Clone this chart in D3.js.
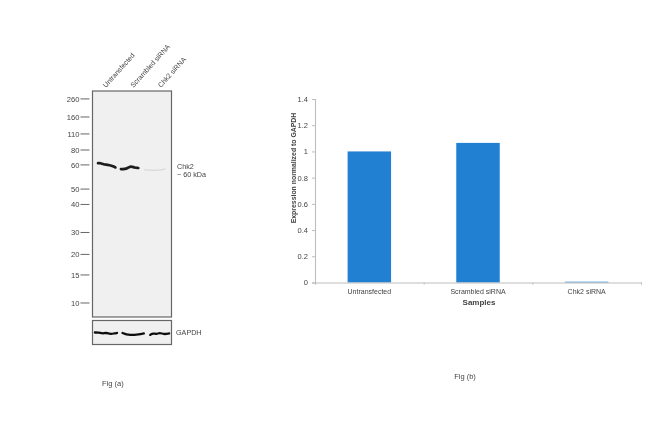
<!DOCTYPE html>
<html><head><meta charset="utf-8">
<style>html,body{margin:0;padding:0;background:#fff}svg{display:block}text{font-family:"Liberation Sans",Arial,sans-serif;fill:#444}</style>
<script src="https://cdn.jsdelivr.net/npm/d3@7"></script></head>
<body><svg id="c" width="650" height="431"></svg>
<script>
const samples = ["Untransfected","Scrambled siRNA","Chk2 siRNA"];
const expression = [1.0,1.065,0.006];
const yTicks = [0,0.2,0.4,0.6,0.8,1,1.2,1.4];
const markerLabels = ["260","160","110","80","60","50","40","30","20","15","10"];
const markerMigration = [0.035,0.115,0.19,0.261,0.327,0.434,0.502,0.626,0.723,0.814,0.938];
const chk2Lane1 = [[0.07,0.28],[0.1,0.27],[0.14,0.36],[0.19,0.38],[0.24,0.44],[0.29,0.56]];
const chk2Lane2 = [[0.36,0.67],[0.41,0.68],[0.45,0.58],[0.49,0.47],[0.53,0.58],[0.58,0.6]];
const chk2Lane3 = [[0.66,0.72],[0.72,0.74],[0.8,0.76],[0.86,0.74],[0.92,0.66]];
const gapdhLane1 = [[0.03,0.5],[0.08,0.5],[0.13,0.55],[0.17,0.5],[0.23,0.58],[0.28,0.53],[0.31,0.52]];
const gapdhLane2 = [[0.38,0.52],[0.43,0.58],[0.48,0.6],[0.53,0.6],[0.58,0.58],[0.65,0.54]];
const gapdhLane3 = [[0.73,0.6],[0.77,0.52],[0.81,0.58],[0.85,0.5],[0.9,0.58],[0.97,0.54]];

const svg = d3.select("#c");
const defs = svg.append("defs");
defs.append("filter").attr("id","soft").append("feGaussianBlur").attr("stdDeviation",0.5);
defs.append("filter").attr("id","softText").append("feGaussianBlur").attr("stdDeviation",0.22);
const root = svg.append("g").attr("filter","url(#softText)");

/* ---------- Fig (a) ---------- */
const blotX = d3.scaleLinear().domain([0,1]).range([92.5,171.5]);
const blotY = d3.scaleLinear().domain([0,1]).range([91,317]);
const chk2Y = d3.scaleLinear().domain([0,1]).range([159,174]);
const gapdhY = d3.scaleLinear().domain([0,1]).range([320.5,344.5]);
const bandLine = y => d3.line().x(d=>blotX(d[0])).y(d=>y(d[1])).curve(d3.curveBasis);

root.append("rect").attr("x",blotX(0)).attr("y",blotY(0)).attr("width",blotX(1)-blotX(0)).attr("height",blotY(1)-blotY(0))
  .attr("fill","#f0f0f0").attr("stroke","#666").attr("stroke-width",1.2);
root.append("rect").attr("x",blotX(0)).attr("y",gapdhY(0)).attr("width",blotX(1)-blotX(0)).attr("height",gapdhY(1)-gapdhY(0))
  .attr("fill","#f0f0f0").attr("stroke","#666").attr("stroke-width",1.2);

const bands = root.append("g").attr("filter","url(#soft)").attr("fill","none").attr("stroke-linecap","round");
[chk2Lane1,chk2Lane2].forEach(l=>bands.append("path").attr("d",bandLine(chk2Y)(l)).attr("stroke","#1c1c1c").attr("stroke-width",2.7));
bands.append("path").attr("d",bandLine(chk2Y)(chk2Lane3)).attr("stroke","#d8d8d8").attr("stroke-width",1.2);
[gapdhLane1,gapdhLane2,gapdhLane3].forEach(l=>bands.append("path").attr("d",bandLine(gapdhY)(l)).attr("stroke","#111").attr("stroke-width",2.3));

const ticks = root.append("g");
markerLabels.forEach((t,i)=>{
  const y = blotY(markerMigration[i]);
  ticks.append("line").attr("x1",80.5).attr("x2",89.5).attr("y1",y).attr("y2",y).attr("stroke","#666").attr("stroke-width",1);
  ticks.append("text").attr("x",79.5).attr("y",y+2.8).attr("text-anchor","end").attr("font-size",7.6).text(t);
});
const lanes = d3.scalePoint().domain(samples).range([107,162]);
samples.forEach(s=>{
  root.append("text").attr("transform",`translate(${lanes(s)-1},88) rotate(-48)`).attr("font-size",7).text(s);
});
root.append("text").attr("x",177).attr("y",168.5).attr("font-size",7.2).text("Chk2");
root.append("text").attr("x",177).attr("y",177).attr("font-size",7.2).text("~ 60 kDa");
root.append("text").attr("x",176).attr("y",335).attr("font-size",7.2).text("GAPDH");
root.append("text").attr("x",102).attr("y",386).attr("font-size",7.5).text("Fig (a)");

/* ---------- Fig (b) ---------- */
const x = d3.scaleBand().domain(samples).range([315,641]).paddingInner(0.6).paddingOuter(0.3);
const y = d3.scaleLinear().domain([0,1.4]).range([282.5,99]);
const bars = root.append("g");
bars.selectAll("rect").data(samples).join("rect")
  .attr("x",d=>x(d)).attr("width",x.bandwidth())
  .attr("y",(d,i)=>y(expression[i])).attr("height",(d,i)=>y(0)-y(expression[i]))
  .attr("fill","#2480d2");

const axisColor = "#bdbdbd";
const yAxis = root.append("g").attr("transform","translate(315,0)")
  .call(d3.axisLeft(y).tickValues(yTicks).tickSize(3).tickPadding(4).tickFormat(d3.format("~g")));
const xAxis = root.append("g").attr("transform","translate(0,282.5)")
  .call(d3.axisBottom(d3.scaleLinear().domain([0,3]).range([315,641])).ticks(3).tickSize(2).tickFormat(""));
[yAxis,xAxis].forEach(a=>{a.selectAll(".domain,line").attr("stroke",axisColor);a.select(".domain").attr("stroke-width",1.1);});
yAxis.selectAll("text").attr("font-size",7.5).attr("font-family",'"Liberation Sans",sans-serif').attr("fill","#444");
const centers = d3.scaleBand().domain(samples).range([315,641]);
samples.forEach(s=>root.append("text").attr("x",centers(s)+centers.bandwidth()/2).attr("y",293.5).attr("text-anchor","middle").attr("font-size",7).text(s));
root.append("text").attr("x",479).attr("y",304.5).attr("text-anchor","middle").attr("font-size",8).attr("font-weight","bold").text("Samples");
root.append("text").attr("transform","translate(296,168) rotate(-90)").attr("text-anchor","middle").attr("font-size",6.9).attr("font-weight","bold").text("Expression  normalized to GAPDH");
root.append("text").attr("x",465).attr("y",379).attr("text-anchor","middle").attr("font-size",7.5).text("Fig (b)");
</script></body></html>
